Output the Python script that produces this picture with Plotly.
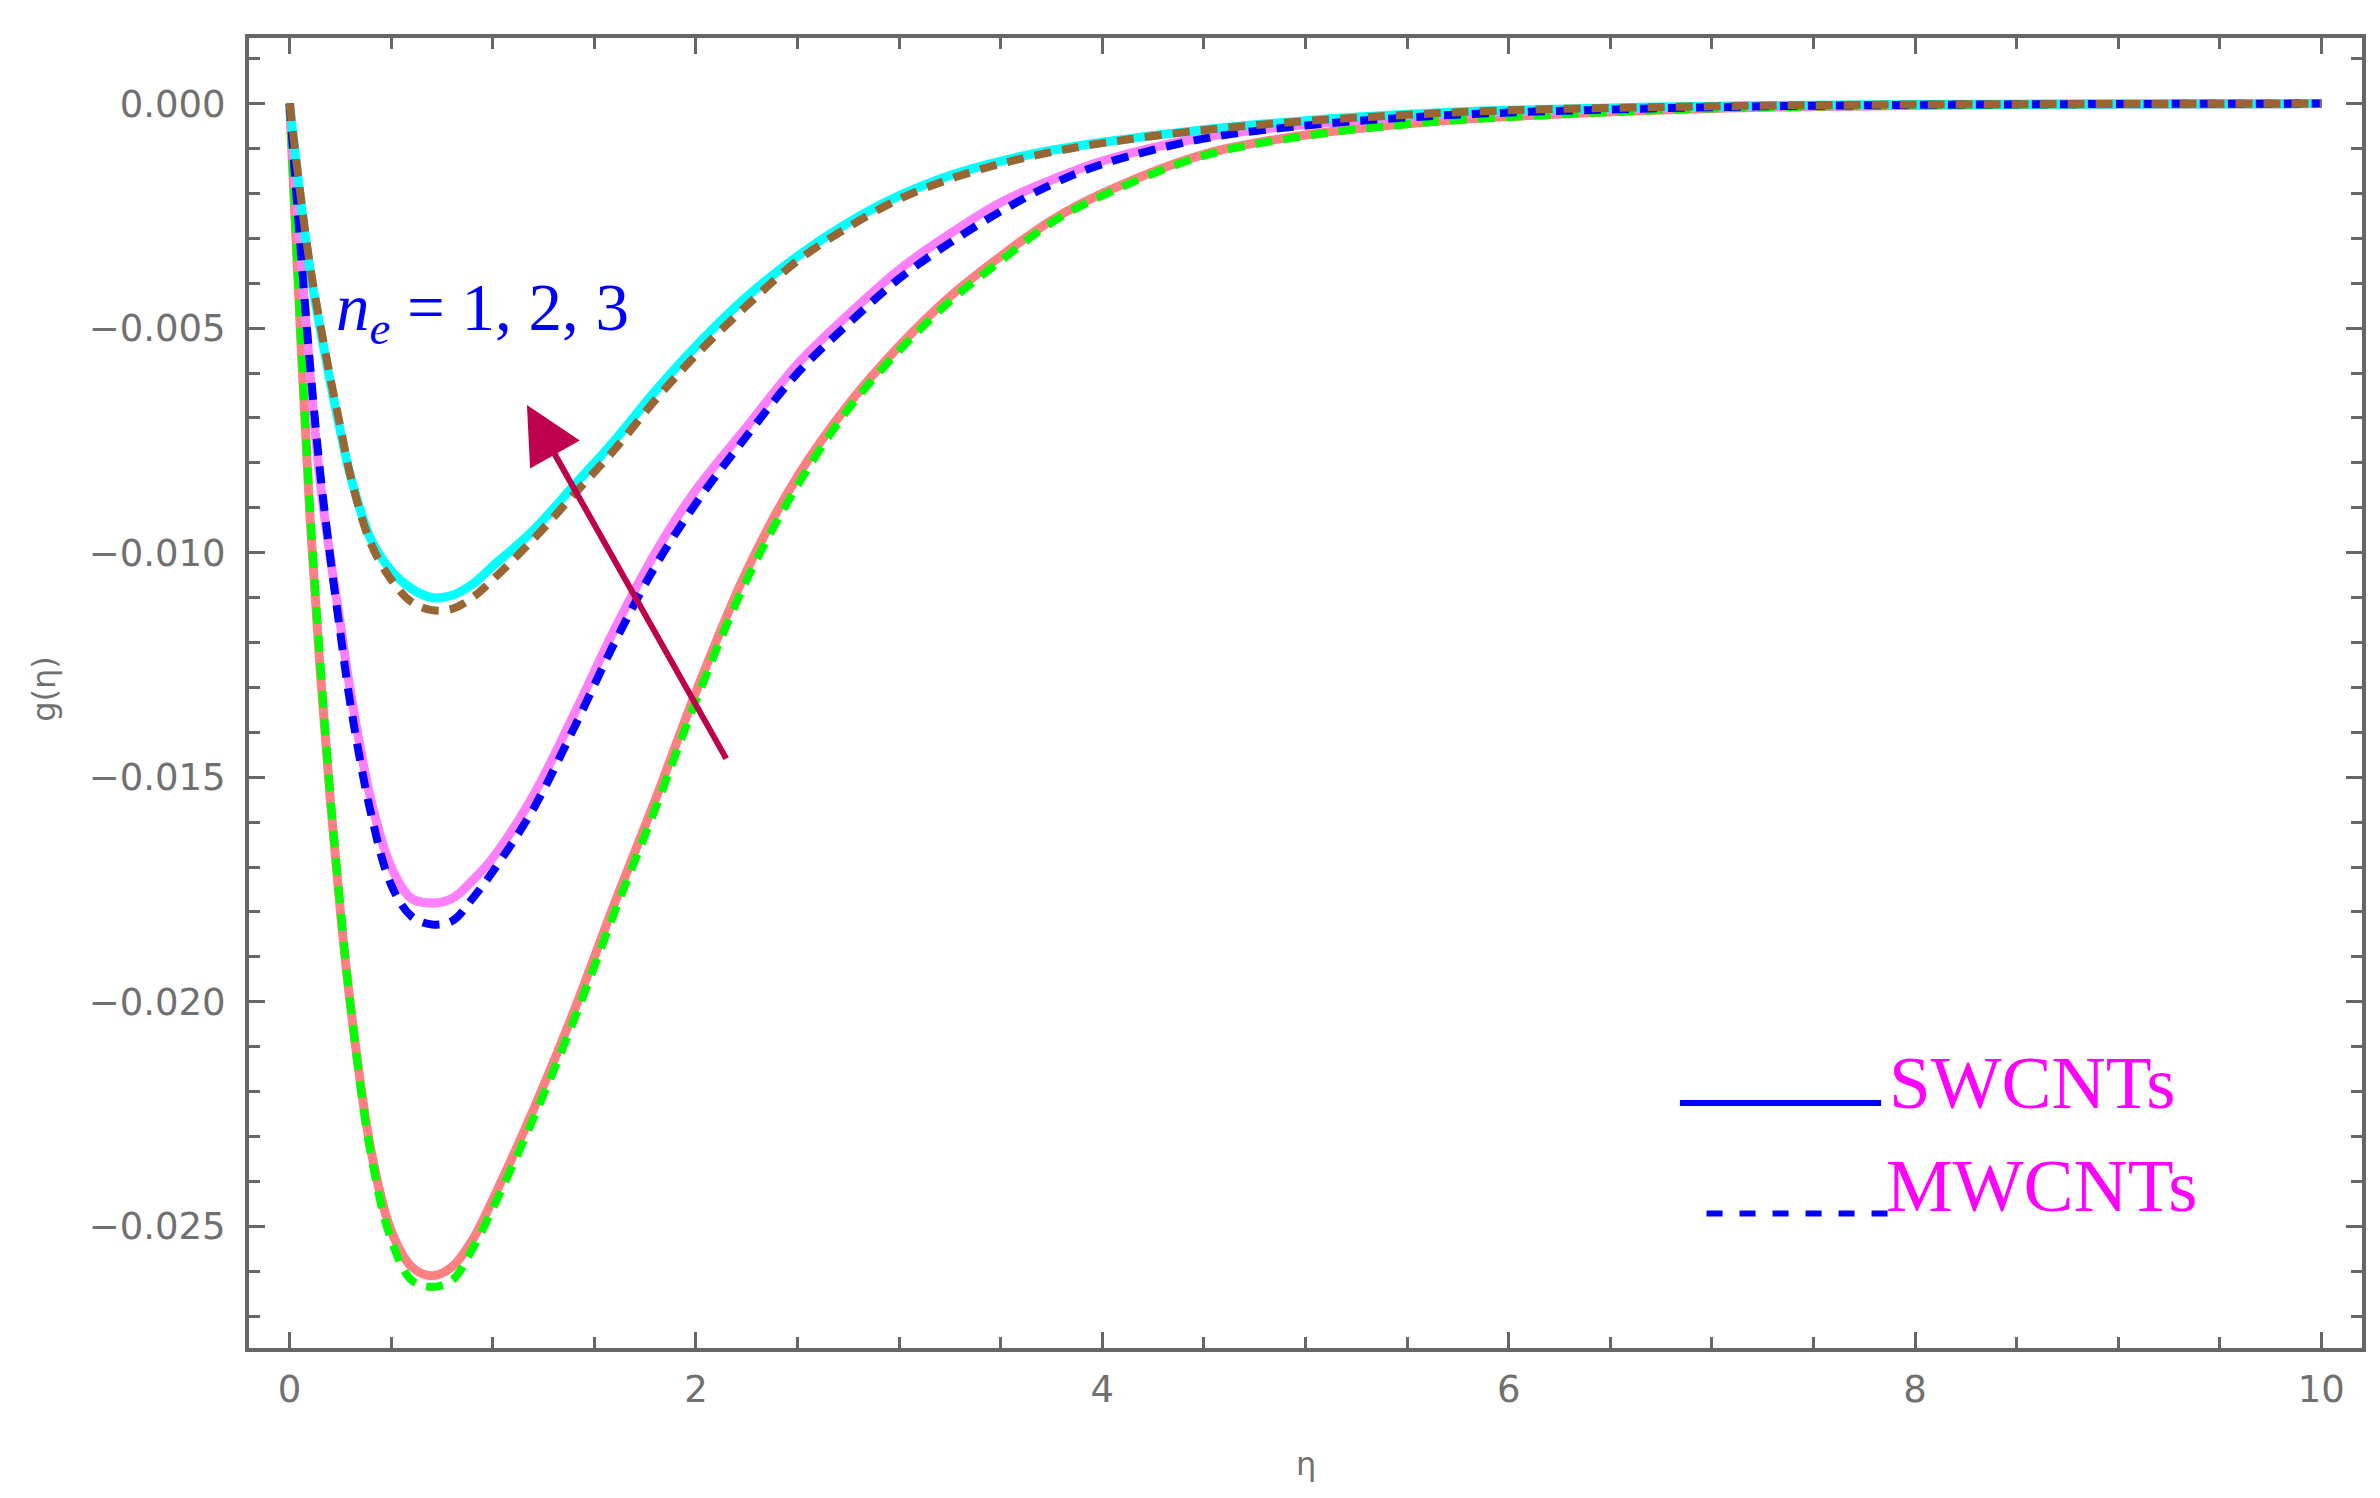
import plotly.graph_objects as go

# ----------------------------- Data -----------------------------
eta = [0, 0.05, 0.1, 0.15, 0.2, 0.25, 0.3, 0.4, 0.5, 0.6, 0.7, 0.8, 0.9, 1.0, 1.2, 1.4,
       1.6, 1.8, 2.0, 2.25, 2.5, 2.75, 3.0, 3.25, 3.5, 3.75, 4.0, 4.5, 5.0, 5.5, 6.0,
       7.0, 8.0, 9.0, 10.0]

# SWCNTs (solid)
swcnt_ne1 = [0, -0.0048, -0.0092, -0.0126, -0.0155, -0.0180, -0.0201, -0.0233, -0.0251,
             -0.0259, -0.0261, -0.0259, -0.0253, -0.0244, -0.0224, -0.0202, -0.0178,
             -0.0155, -0.0131, -0.0104, -0.0083, -0.0067, -0.0054, -0.0043, -0.0034,
             -0.0026, -0.0020, -0.00113, -0.0007, -0.00045, -0.00029, -0.00011,
             -0.00004, -0.00001, 0]
swcnt_ne2 = [0, -0.0031, -0.0060, -0.0084, -0.0101, -0.0116, -0.0131, -0.0155, -0.0170,
             -0.0177, -0.0178, -0.0177, -0.0173, -0.0168, -0.0154, -0.0136, -0.0117,
             -0.0100, -0.0086, -0.0072, -0.0058, -0.0047, -0.0037, -0.0029, -0.0022,
             -0.0017, -0.00128, -0.00075, -0.00047, -0.0003, -0.00019, -0.00008,
             -0.00003, -0.00001, 0]
swcnt_ne3 = [0, -0.0020, -0.0037, -0.0050, -0.0062, -0.0073, -0.0083, -0.0097, -0.0104,
             -0.0108, -0.0110, -0.01095, -0.0107, -0.0103, -0.0095, -0.0085, -0.0075,
             -0.0064, -0.0054, -0.0043, -0.0034, -0.00265, -0.00205, -0.0016, -0.00128,
             -0.00104, -0.00086, -0.00058, -0.00038, -0.00024, -0.00015, -0.00006,
             -0.00002, -0.00001, 0]

# MWCNTs (dashed)
mwcnt_ne1 = [0, -0.0047, -0.0090, -0.0124, -0.0154, -0.0179, -0.0201, -0.0234, -0.0253,
             -0.0262, -0.02635, -0.0262, -0.0255, -0.0246, -0.0226, -0.0204, -0.0180,
             -0.0157, -0.0133, -0.0106, -0.0085, -0.0068, -0.0055, -0.0044, -0.0035,
             -0.00265, -0.00205, -0.00116, -0.00072, -0.00046, -0.0003, -0.00011,
             -0.00004, -0.00001, 0]
mwcnt_ne2 = [0, -0.0030, -0.0058, -0.0082, -0.0101, -0.0118, -0.0134, -0.0158, -0.0174,
             -0.0181, -0.01828, -0.0182, -0.0177, -0.0171, -0.0157, -0.0139, -0.0120,
             -0.0103, -0.0089, -0.0074, -0.0060, -0.0049, -0.0039, -0.0031, -0.0024,
             -0.0018, -0.00135, -0.00078, -0.00049, -0.00031, -0.0002, -0.00008,
             -0.00003, -0.00001, 0]
mwcnt_ne3 = [0, -0.0019, -0.0036, -0.0049, -0.0061, -0.0072, -0.0083, -0.0098, -0.0106,
             -0.0111, -0.01128, -0.01125, -0.0110, -0.0106, -0.0097, -0.0087, -0.0077,
             -0.0066, -0.0056, -0.0045, -0.0035, -0.00275, -0.00213, -0.00168, -0.00134,
             -0.00108, -0.00088, -0.00059, -0.00039, -0.00025, -0.00015, -0.00006,
             -0.00002, -0.00001, 0]

solid_series = [swcnt_ne1, swcnt_ne2, swcnt_ne3]
solid_colors = ['#ff8080', '#ff80ff', '#00ffff']
dashed_series = [mwcnt_ne1, mwcnt_ne2, mwcnt_ne3]
dashed_colors = ['#00ff00', '#0000ff', '#996633']

# arrow: tail -> head (data coords)
arrow_tail = (2.153, -0.01462)
arrow_head = (1.168, -0.00671)

AXIS_GRAY = '#666666'
LABEL_GRAY = '#707070'

# ------------------------------------ Figure ------------------------------------------
fig = go.Figure()

for ys, col in zip(solid_series, solid_colors):
    fig.add_trace(go.Scatter(
        x=eta, y=ys, mode='lines',
        line=dict(color=col, width=9, shape='spline', smoothing=1.0),
        showlegend=False, hoverinfo='skip'
    ))

for ys, col in zip(dashed_series, dashed_colors):
    fig.add_trace(go.Scatter(
        x=eta, y=ys, mode='lines',
        line=dict(color=col, width=8, dash='17px,11px', shape='spline', smoothing=1.0),
        showlegend=False, hoverinfo='skip'
    ))

# arrow showing increase of n_e
fig.add_annotation(
    x=arrow_head[0], y=arrow_head[1], ax=arrow_tail[0], ay=arrow_tail[1],
    xref='x', yref='y', axref='x', ayref='y',
    text='', showarrow=True, arrowhead=2, arrowsize=1.9, arrowwidth=6,
    arrowcolor='#bf004d', standoff=0
)

fig.add_annotation(
    x=0.95, y=-0.00465, xref='x', yref='y',
    text='<i>n</i><sub><i>e</i></sub> = 1, 2, 3', showarrow=False,
    font=dict(family='Liberation Serif', size=67, color='#0000ff'),
    xanchor='center', yanchor='middle'
)

# custom legend (long line samples + magenta labels)
fig.add_shape(type='line', xref='paper', yref='paper',
              x0=0.6772, x1=0.7724, y0=0.1871, y1=0.1871,
              line=dict(color='#0000ff', width=6))
fig.add_shape(type='line', xref='paper', yref='paper',
              x0=0.6898, x1=0.7774, y0=0.1026, y1=0.1026,
              line=dict(color='#0000ff', width=6, dash='16px,17px'))
fig.add_annotation(x=0.7753, y=0.2024, xref='paper', yref='paper', text='SWCNTs',
                   showarrow=False, xanchor='left', yanchor='middle',
                   font=dict(family='Liberation Serif', size=75, color='#ff00ff'))
fig.add_annotation(x=0.7737, y=0.1241, xref='paper', yref='paper', text='MWCNTs',
                   showarrow=False, xanchor='left', yanchor='middle',
                   font=dict(family='Liberation Serif', size=75, color='#ff00ff'))

# axis titles
fig.add_annotation(x=0.5, y=-0.0886, xref='paper', yref='paper', text='η',
                   showarrow=False, xanchor='center', yanchor='middle',
                   font=dict(family='DejaVu Sans', size=32, color=LABEL_GRAY))
fig.add_annotation(x=-0.097, y=0.5032, xref='paper', yref='paper', text='g(η)',
                   showarrow=False, textangle=-90, xanchor='center', yanchor='middle',
                   font=dict(family='DejaVu Sans', size=32, color=LABEL_GRAY))

axis_common = dict(
    showgrid=False, zeroline=False, showline=True, linecolor=AXIS_GRAY, linewidth=4,
    mirror='allticks', ticks='inside', ticklen=16, tickwidth=3, tickcolor=AXIS_GRAY,
    tickfont=dict(family='DejaVu Sans', size=37, color=LABEL_GRAY),
)

fig.update_xaxes(range=[-0.2, 10.2], tick0=0, dtick=2, ticklabelstandoff=6,
                 minor=dict(dtick=0.5, ticks='inside', ticklen=11, tickwidth=3,
                            tickcolor=AXIS_GRAY),
                 **axis_common)
fig.update_yaxes(range=[-0.02771, 0.00146], tick0=0, dtick=0.005, tickformat='.3f',
                 ticklabelstandoff=12,
                 minor=dict(dtick=0.001, ticks='inside', ticklen=11, tickwidth=3,
                            tickcolor=AXIS_GRAY),
                 **axis_common)

fig.update_layout(
    width=2380, height=1498,
    template='plotly_white',
    plot_bgcolor='white', paper_bgcolor='white',
    margin=dict(l=241, r=26, t=30, b=158),
    showlegend=False
)

fig.write_html("out.html")
